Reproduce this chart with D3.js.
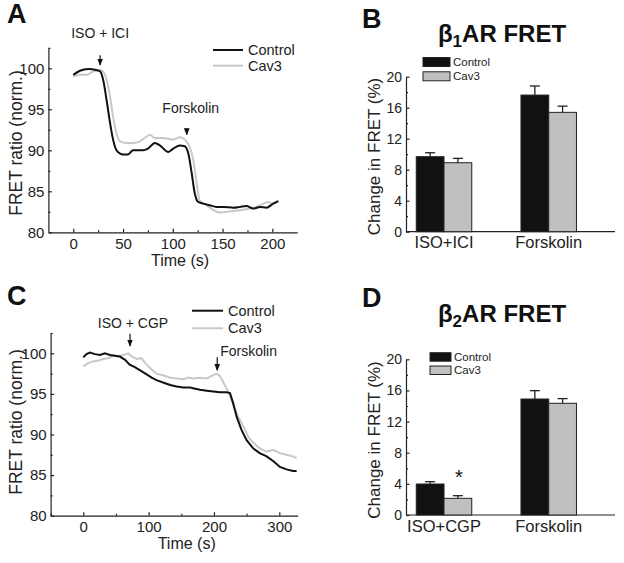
<!DOCTYPE html>
<html><head><meta charset="utf-8">
<script src="https://cdn.jsdelivr.net/npm/d3@7"></script>
<style>
html,body{margin:0;padding:0;background:#fff;}
svg text{font-family:"Liberation Sans",Arial,sans-serif;}
</style></head>
<body>
<svg id="c" width="624" height="563"></svg>
<script>
// ---------- DATA ----------
// Panel A (beta1AR time course): [time s, FRET ratio]
const controlA = [[0,99.2],[6.7,99.7],[15,99.9],[23,99.8],[27,99.6],[30,98.6],[33.5,96.1],[37,93.3],[40,91.3],[43.5,90],[50,89.5],[55,89.5],[60,90],[70,90],[75,90.2],[82,90.9],[87,90.6],[95.5,89.8],[100.5,90.2],[107,90.6],[112,90.5],[115.6,89.6],[119,87.2],[122,84.8],[125.6,83.7],[130.6,83.5],[137,83.3],[144,83.1],[151,83.1],[161,83],[167.5,83.1],[174,83.2],[181,82.9],[187.6,83.1],[194,83],[201,83.5],[206,83.8]];
const cav3A = [[0,99],[6.7,99.2],[13,99.2],[20,99.6],[27,99.8],[30,99.6],[33.5,98.6],[37,96.5],[40,94.1],[43.5,92],[47,91.1],[53.6,90.9],[60,90.9],[67,91.1],[74,91.7],[77,91.9],[82,91.5],[90,91.5],[100.5,91.3],[107,91.6],[112,91.3],[117,90.4],[120.6,88.8],[124,86],[127,83.9],[134,83.3],[140.7,82.7],[147,82.4],[154,82.5],[161,82.6],[167.5,82.7],[177.5,82.9],[184,83.1],[191,83.5],[196,83.7],[199,83.5],[206,83.8]];
// Panel C (beta2AR time course)
const controlC = [[0,99.5],[5,99.9],[10,100.1],[18,99.9],[25.5,99.8],[33,100],[41,99.8],[48.5,99.7],[56,99.6],[64,99.2],[71,98.6],[79,98.3],[87,97.9],[97,97.4],[104.6,97],[112,96.7],[122,96.4],[133,96.1],[143,95.9],[153,95.8],[163,95.8],[168,95.7],[178.6,95.5],[189,95.4],[199,95.3],[209,95.2],[219,95.2],[224.5,95.1],[229.6,93.8],[234.7,92.2],[242,90.6],[250,89.3],[260,88.3],[270,87.7],[280.6,87.3],[291,86.7],[301,86],[311,85.7],[321,85.5],[326.5,85.5]];
const cav3C = [[0,98.4],[7.6,98.8],[15,99],[23,99.1],[30.6,99.3],[38,99.4],[46,99.7],[53.6,99.6],[61,99.8],[69,100],[74,99.6],[81.6,99.3],[89,99.4],[97,98.6],[104.6,98],[112,97.5],[122,97.3],[133,97],[143,96.9],[153,96.8],[161,97],[168,96.9],[178.6,97],[189,96.9],[199,97.3],[204,97.5],[209,97.2],[214,96.5],[219,95.7],[224.5,94.9],[229.6,93.6],[237,92.2],[245,91],[252.5,89.7],[260,89],[270,88.3],[280.6,87.9],[291,88.1],[301,87.7],[311,87.5],[321,87.3],[326.5,87.1]];
// Arrows: [label, time, top value, tip value]
const arrowsA = [["ISO + ICI",27,101.6,100.4],["Forskolin",114,92.7,91.9]];
const arrowsC = [["ISO + CGP",71.5,102.4,100.9],["Forskolin",205,99.5,97.9]];
const seriesNames = ["Control","Cav3"];
const xTicksA = [0,50,100,150,200];
const xTicksC = [0,100,200,300];
const yTicksLine = [80,85,90,95,100];
// Panel B / D bars
const groupsB = ["ISO+ICI","Forskolin"];
const controlB = [9.68,17.63], controlBErr = [0.51,1.17];
const cav3B = [8.9,15.4], cav3BErr = [0.56,0.8];
const groupsD = ["ISO+CGP","Forskolin"];
const controlD = [3.98,14.9], controlDErr = [0.30,1.07];
const cav3D = [2.14,14.35], cav3DErr = [0.34,0.6];
const yTicksBar = [0,4,8,12,16,20];

// ---------- DRAW ----------
const svg = d3.select("#c");
const colCtrl = "#111", colCav = "#c8c8c8";

function addArrowDefs(){
  const defs = svg.append("defs");
  defs.append("marker").attr("id","ah").attr("viewBox","0 0 10 10").attr("refX",9).attr("refY",5)
    .attr("markerWidth",6).attr("markerHeight",6).attr("orient","auto")
    .append("path").attr("d","M0,1 L10,5 L0,9 Z").attr("fill","#111");
}
addArrowDefs();

function linePanel(cfg){
  const g = svg.append("g");
  const x = d3.scaleLinear().domain(cfg.xDomain).range(cfg.xRange);
  const y = d3.scaleLinear().domain([80,102.5]).range(cfg.yRange);
  g.append("g").attr("transform",`translate(0,${cfg.yRange[0]})`)
    .call(d3.axisBottom(x).tickValues(cfg.xTicks).tickSizeInner(-3.5).tickSizeOuter(0).tickPadding(6));
  g.append("g").attr("transform",`translate(0,${cfg.yRange[0]})`)
    .call(d3.axisBottom(x).tickValues(cfg.xMinor).tickSizeInner(-2).tickSizeOuter(0).tickFormat(""))
    .select(".domain").remove();
  g.append("g").attr("transform",`translate(${cfg.xRange[0]},0)`)
    .call(d3.axisLeft(y).tickValues(yTicksLine).tickSizeInner(-3.5).tickSizeOuter(0).tickPadding(4));
  g.append("g").attr("transform",`translate(${cfg.xRange[0]},0)`)
    .call(d3.axisLeft(y).tickValues([82.5,87.5,92.5,97.5,102.5]).tickSizeInner(-2).tickSizeOuter(0).tickFormat(""))
    .select(".domain").remove();
  g.selectAll(".tick text").attr("font-size",15).attr("fill","#222");
  g.selectAll(".domain,.tick line").attr("stroke","#222").attr("stroke-width",1.2);
  const line = d3.line().x(d=>x(d[0])).y(d=>y(d[1])).curve(cfg.curve);
  g.append("path").datum(cfg.cav).attr("d",line).attr("fill","none").attr("stroke",colCav).attr("stroke-width",2);
  g.append("path").datum(cfg.ctrl).attr("d",line).attr("fill","none").attr("stroke",colCtrl).attr("stroke-width",2);
  cfg.arrows.forEach((a,i)=>{
    g.append("line").attr("x1",x(a[1])).attr("x2",x(a[1])).attr("y1",y(a[2])).attr("y2",y(a[3]))
      .attr("stroke","#111").attr("stroke-width",1.2).attr("marker-end","url(#ah)");
    const o = cfg.arrowText[i];
    g.append("text").attr("x",x(a[1])+o[0]).attr("y",y(a[2])+o[1]).attr("text-anchor",o[2])
      .attr("font-size",14).attr("fill","#222").text(a[0]);
  });
  [colCtrl,colCav].forEach((c,i)=>{
    const ly = cfg.legend[1] + i*cfg.legend[3];
    g.append("line").attr("x1",cfg.legend[0]).attr("x2",cfg.legend[0]+cfg.legend[2]).attr("y1",ly).attr("y2",ly)
      .attr("stroke",c).attr("stroke-width",2);
    g.append("text").attr("x",cfg.legend[0]+cfg.legend[2]+5).attr("y",ly+5).attr("font-size",14.5).attr("fill","#222").text(seriesNames[i]);
  });
  g.append("text").attr("x",cfg.xLabel[0]).attr("y",cfg.xLabel[1]).attr("text-anchor","middle").attr("font-size",16).attr("fill","#222").text("Time (s)");
  g.append("text").attr("transform",`translate(${cfg.yLabel[0]},${cfg.yLabel[1]}) rotate(-90)`).attr("text-anchor","middle")
    .attr("font-size",17.5).attr("fill","#222").text("FRET ratio (norm.)");
  g.append("text").attr("x",cfg.letter[0]).attr("y",cfg.letter[1]).attr("font-size",27).attr("font-weight","bold").attr("fill","#111").text(cfg.letter[2]);
}

linePanel({xDomain:[-25,225],xRange:[48.4,297.2],yRange:[232.3,47.8],xTicks:xTicksA,xMinor:[25,75,125,175],
  ctrl:controlA,cav:cav3A,curve:d3.curveMonotoneX,arrows:arrowsA,
  arrowText:[[0,-17,"middle"],[4,-15,"middle"]],legend:[213,50,30,15.7],
  xLabel:[180,266],yLabel:[21.5,143],letter:[7,23,"A"]});
linePanel({xDomain:[-50,328],xRange:[50.6,297.6],yRange:[515.7,333.0],xTicks:xTicksC,xMinor:[-50,50,150,250],
  ctrl:controlC,cav:cav3C,curve:d3.curveLinear,arrows:arrowsC,
  arrowText:[[3,-6,"middle"],[3,-1,"start"]],legend:[192,310.7,31,17.6],
  xLabel:[186.7,549],yLabel:[21.5,422],letter:[7,305,"C"]});

function barPanel(cfg){
  const g = svg.append("g");
  const x = d3.scaleLinear().domain([0.637,2.633]).range([406,615]);
  const y = d3.scaleLinear().domain([0,20]).range(cfg.yRange);
  const bw = 0.265;
  g.append("g").attr("transform",`translate(406,0)`)
    .call(d3.axisLeft(y).tickValues(yTicksBar).tickSizeInner(-3.5).tickSizeOuter(0).tickPadding(4));
  g.append("g").attr("transform",`translate(406,0)`)
    .call(d3.axisLeft(y).tickValues([2,6,10,14,18]).tickSizeInner(-2).tickSizeOuter(0).tickFormat(""))
    .select(".domain").remove();
  g.selectAll(".tick text").attr("font-size",14).attr("fill","#222");
  g.append("line").attr("x1",406).attr("x2",615).attr("y1",cfg.yRange[0]).attr("y2",cfg.yRange[0]).attr("stroke","#222").attr("stroke-width",1.2);
  g.selectAll(".domain,.tick line").attr("stroke","#222").attr("stroke-width",1.2);
  const sets = [[cfg.ctrl,cfg.ctrlErr,colCtrl,-bw],[cfg.cav,cfg.cavErr,"#c0c0c0",0]];
  sets.forEach(s=>{
    s[0].forEach((v,i)=>{
      const cx = i+1;
      g.append("rect").attr("x",x(cx+s[3])).attr("width",x(cx+s[3]+bw)-x(cx+s[3]))
        .attr("y",y(v)).attr("height",y(0)-y(v)).attr("fill",s[2]).attr("stroke","#222").attr("stroke-width",1);
      const mx = x(cx+s[3]+bw/2);
      g.append("line").attr("x1",mx).attr("x2",mx).attr("y1",y(v)).attr("y2",y(v+s[1][i])).attr("stroke","#222").attr("stroke-width",1.3);
      g.append("line").attr("x1",mx-5).attr("x2",mx+5).attr("y1",y(v+s[1][i])).attr("y2",y(v+s[1][i])).attr("stroke","#222").attr("stroke-width",1.3);
    });
  });
  cfg.groups.forEach((lab,i)=>{
    g.append("text").attr("x",x(i+1)).attr("y",cfg.xLabY).attr("text-anchor","middle").attr("font-size",16.5).attr("fill","#222").text(lab);
  });
  [[colCtrl],["#c0c0c0"]].forEach((c,i)=>{
    const ly = cfg.legend[1]+i*cfg.legend[4];
    g.append("rect").attr("x",cfg.legend[0]).attr("y",ly).attr("width",cfg.legend[2]).attr("height",cfg.legend[3])
      .attr("fill",c[0]).attr("stroke","#222").attr("stroke-width",1);
    g.append("text").attr("x",cfg.legend[0]+cfg.legend[2]+3).attr("y",ly+cfg.legend[3]-0.5).attr("font-size",11.5).attr("fill","#222").text(seriesNames[i]);
  });
  g.append("text").attr("transform",`translate(380,${cfg.yLabCy}) rotate(-90)`).attr("text-anchor","middle").attr("font-size",17).attr("fill","#222").text("Change in FRET (%)");
  const t = g.append("text").attr("x",502).attr("y",cfg.titleY).attr("text-anchor","middle").attr("font-size",24).attr("font-weight","bold").attr("fill","#111");
  t.append("tspan").text("\u03B2");
  t.append("tspan").attr("dy",5).attr("font-size",17).text(cfg.sub);
  t.append("tspan").attr("dy",-5).text("AR FRET");
  g.append("text").attr("x",362).attr("y",cfg.letterY).attr("font-size",27).attr("font-weight","bold").attr("fill","#111").text(cfg.letter);
  if(cfg.star) g.append("text").attr("x",x(1+bw/2)+1).attr("y",y(cfg.cav[0]+cfg.cavErr[0])-12).attr("text-anchor","middle").attr("font-size",20).attr("fill","#111").text("*");
}
barPanel({yRange:[231.7,76.7],ctrl:controlB,ctrlErr:controlBErr,cav:cav3B,cavErr:cav3BErr,groups:groupsB,
  xLabY:248,legend:[423,57.5,27,9,14.3],yLabCy:156.5,titleY:41.5,sub:"1",letter:"B",letterY:28,star:false});
barPanel({yRange:[515,359.3],ctrl:controlD,ctrlErr:controlDErr,cav:cav3D,cavErr:cav3DErr,groups:groupsD,
  xLabY:532,legend:[430,352.7,21,8.5,13.3],yLabCy:440,titleY:321.5,sub:"2",letter:"D",letterY:307,star:true});
</script>
</body></html>
